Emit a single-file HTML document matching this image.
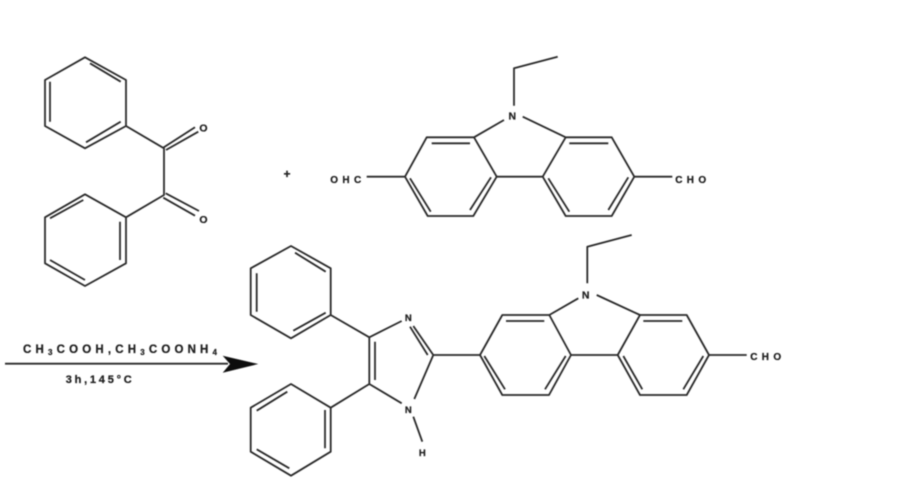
<!DOCTYPE html>
<html><head><meta charset="utf-8"><style>
html,body{margin:0;padding:0;background:#fff;width:900px;height:500px;overflow:hidden}
svg{display:block}
text{font-family:"Liberation Sans",sans-serif;font-weight:bold;fill:#222;stroke:#222;stroke-width:.25;text-anchor:middle;dominant-baseline:central}
</style></head><body>
<svg width="900" height="500" viewBox="0 0 900 500">
<defs><filter id="b" x="-5%" y="-5%" width="110%" height="110%"><feGaussianBlur stdDeviation="0.45"/></filter></defs>
<g filter="url(#b)">
<g fill="none" stroke="#2a2a2a" stroke-width="1.8" stroke-linejoin="round">
<!-- benzil -->
<path d="M85 57.3L126 80V126L85 148.3L45 126V80Z"/>
<path d="M90 63.3L120.7 81.7M50 81.7V121.7M86 142.3L120.7 121.7"/>
<path d="M85 194.3L126 217.3V263.3L85 286L45 263.3V217.3Z"/>
<path d="M50 218.3L83.3 200M120 221.7V260M50 260L85 280"/>
<path d="M126 126L164 148.3V195L126 217.3"/>
<path d="M163.5 147.5L195 127.3M166 150L198.3 131.7M165.7 193.3L199 211M163.3 197.7L195 215.7"/>
<!-- carbazole top -->
<path d="M557.7 56.7L514 68.3V105.7M504 120L474 137.3H426.7L405 176.7L427.7 216H473.3L496.7 176.7H542.7L565.7 216H611.7L634.3 176.7L611.7 137.3H565.7L522.7 116.7"/>
<path d="M474 137.3L496.7 176.7M565.7 137.3L542.7 176.7"/>
<path d="M431.7 143.3H470M410 178.3L430.7 211.7M470 210L491 177.3M569.3 143.3H608.3M548.3 178.3L569.3 211.7M608.3 210L628.3 177.3"/>
<path d="M366.7 176.7H405M634.3 176.7H672.3"/>
<!-- product phenyls -->
<path d="M291 246L330.7 268.3V315L291 338.3L250.7 315V268.3Z"/>
<path d="M295 252.7L325.7 271.7M256.7 273.3V311.7M293.3 330.7L325.7 312.7"/>
<path d="M291 384L330.7 407.7V451.7L291 475.7L250.7 451.7V407.7Z"/>
<path d="M256.7 410.7L287.3 391.7M325 410V448.3M256.7 449.3L289.3 468.3"/>
<!-- imidazole -->
<path d="M330.7 315L369.3 337.3L401.7 321M330.7 407.7L369.3 384L401.7 403.3M369.3 337.3V384M375 341.7V380"/>
<path d="M413.3 326L433.3 355L414.3 399M410 326.7L427.7 355M413.3 416.7L422.3 441.7M433.3 355H480"/>
<!-- product carbazole -->
<path d="M631.7 235L587.3 246.7V283.3M578.3 298.3L549.3 315H502.3L480 355L502.3 395H549L571 355H617.7L640 395H686.7L709 355L686.7 315H640L596.7 295"/>
<path d="M549.3 315L571 355M640 315L617.7 355"/>
<path d="M506 321H544.3M484.3 356L505 389.3M545 389.3L565.7 356M643.3 321H682.3M623.3 356L642.3 389.3M683.3 389.3L703.3 356"/>
<path d="M709 355H746.7"/>
<!-- arrow line -->
<path d="M5 363.7H228"/>
</g>
<path d="M222.7 355.7L258.3 364L222.7 372.7L230 364Z" fill="#111"/>
<g font-size="10.5">
<text x="203.5" y="128.3">O</text>
<text x="203.5" y="220">O</text>
<text x="512.3" y="116.7">N</text>
<text x="585.7" y="295.7">N</text>
<text x="408.3" y="318.3" font-size="9.5">N</text>
<text x="408.3" y="410.7" font-size="9.5">N</text>
<text x="422.3" y="453.3" font-size="9.5">H</text>
<text x="287" y="174" font-size="12">+</text>
</g>
<g font-size="10">
<text x="345.7" y="180.7" textLength="31" lengthAdjust="spacing">OHC</text>
<text x="690.7" y="180.7" textLength="31" lengthAdjust="spacing">CHO</text>
<text x="765.7" y="357.7" textLength="31" lengthAdjust="spacing">CHO</text>
</g>
<text x="120" y="350" font-size="11.5" textLength="194" lengthAdjust="spacing">CH<tspan font-size="8" dy="2">3</tspan><tspan dy="-2">COOH,CH</tspan><tspan font-size="8" dy="2">3</tspan><tspan dy="-2">COONH</tspan><tspan font-size="8" dy="2">4</tspan></text>
<text x="98.7" y="380" font-size="11" textLength="66" lengthAdjust="spacing">3h,145°C</text>
</g>
</svg>
</body></html>
